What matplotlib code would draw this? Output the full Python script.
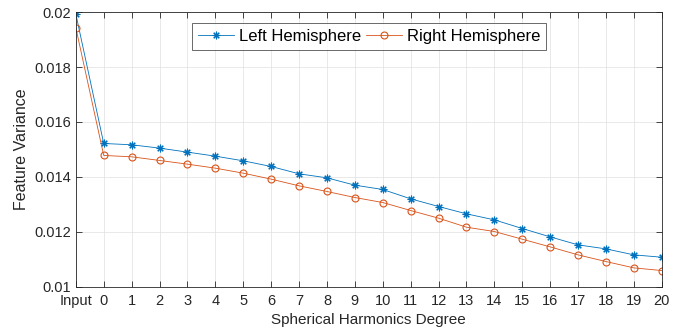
import matplotlib
matplotlib.use("Agg")
import matplotlib.pyplot as plt

categories = ["Input"] + [str(i) for i in range(21)]
left = [0.01993, 0.015218, 0.015170, 0.015049, 0.014903, 0.014757, 0.014587,
        0.014381, 0.014114, 0.013968, 0.013701, 0.013544, 0.013204, 0.012925,
        0.012658, 0.012439, 0.012124, 0.011820, 0.011529, 0.011383, 0.011165,
        0.011080]
right = [0.019430, 0.014782, 0.014733, 0.014600, 0.014466, 0.014320, 0.014138,
         0.013920, 0.013677, 0.013471, 0.013252, 0.013070, 0.012779, 0.012500,
         0.012172, 0.012015, 0.011735, 0.011456, 0.011165, 0.010922, 0.010692,
         0.010595]
yticks = [0.01, 0.012, 0.014, 0.016, 0.018, 0.02]
ytick_labels = ["0.01", "0.012", "0.014", "0.016", "0.018", "0.02"]

plt.rcParams['font.family'] = ['Liberation Sans', 'DejaVu Sans']

fig = plt.figure(figsize=(6.83, 3.34), dpi=100)
ax = fig.add_axes([0.111, 0.141, 0.858, 0.823])

x = list(range(len(categories)))
blue = '#0072BD'
orange = '#D95319'
ax.plot(x, left, color=blue, lw=0.6, marker=(8, 2, 0), ms=5.5, mew=0.8,
        label='Left Hemisphere')
ax.plot(x, right, color=orange, lw=0.6, marker='o', ms=5, mfc='none', mew=0.8,
        label='Right Hemisphere')

ax.set_xlim(0, len(categories) - 1)
ax.set_ylim(0.01, 0.02)
ax.set_xticks(x)
ax.set_xticklabels(categories, fontsize=10.5)
ax.set_yticks(yticks)
ax.set_yticklabels(ytick_labels, fontsize=10.5)
ax.tick_params(direction='in', top=True, right=True, length=4.5, width=0.6,
               colors='#262626')
ax.tick_params(axis='x', pad=5)
ax.tick_params(axis='y', pad=3.5)
ax.grid(True, color='#e0e0e0', lw=0.5)
ax.set_axisbelow(True)
for s in ax.spines.values():
    s.set_linewidth(0.6)
    s.set_color('#262626')

ax.set_xlabel('Spherical Harmonics Degree', fontsize=11, color='#262626', labelpad=4)
ax.set_ylabel('Feature Variance', fontsize=11.5, color='#262626', labelpad=4)

leg = ax.legend(loc='upper center', ncol=2, fontsize=12, frameon=True,
                fancybox=False, edgecolor='#262626', handlelength=2.2,
                handletextpad=0.25, columnspacing=0.3, borderpad=0.35,
                borderaxespad=0, bbox_to_anchor=(0.5, 0.96))
leg.get_frame().set_linewidth(0.6)

fig.savefig('out.png', dpi=100)
